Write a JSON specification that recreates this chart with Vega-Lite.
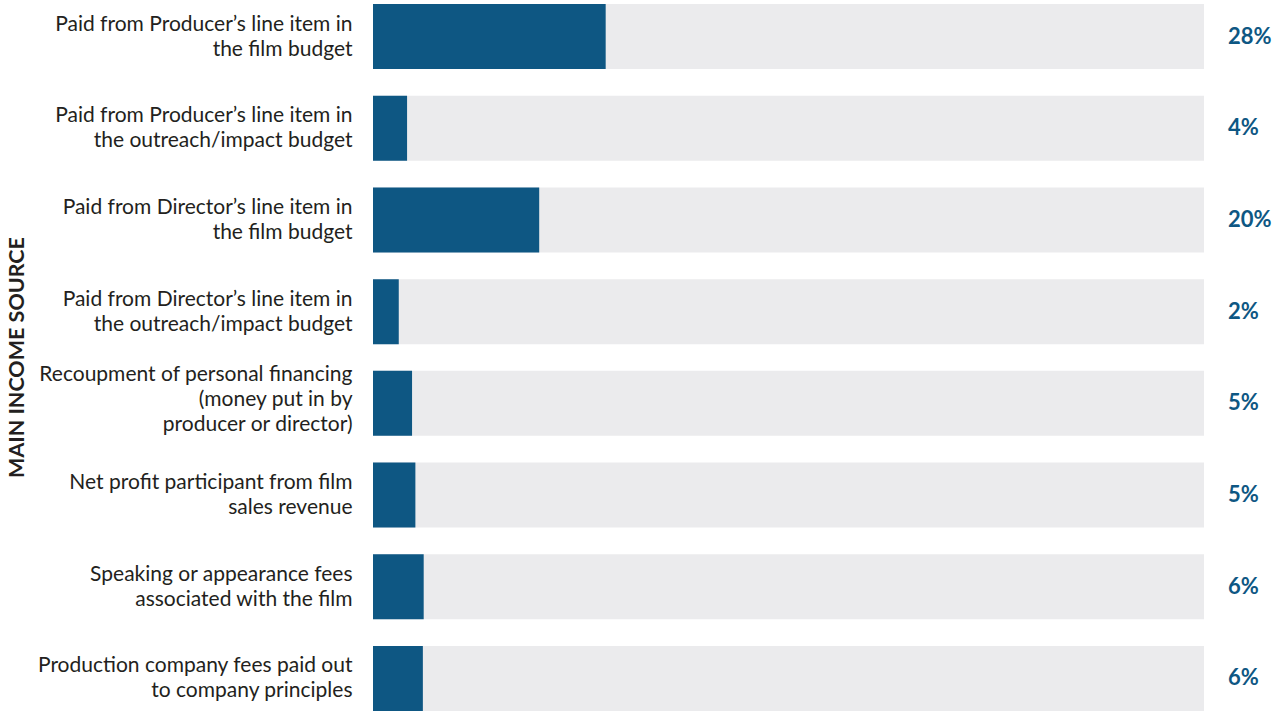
{
  "$schema": "https://vega.github.io/schema/vega-lite/v6.json",
  "width": 831,
  "height": 707,
  "autosize": {"type": "none"},
  "padding": {"left": 373, "top": 4, "right": 76, "bottom": 0},
  "background": "#ffffff",
  "config": {"view": {"stroke": null}, "font": "Lato"},
  "data": {
    "values": [
      {"source": "Paid from Producer’s line item in|the film budget", "pct": 28, "label": "28%"},
      {"source": "Paid from Producer’s line item in|the outreach/impact budget", "pct": 4.1, "label": "4%"},
      {"source": "Paid from Director’s line item in|the film budget", "pct": 20, "label": "20%"},
      {"source": "Paid from Director’s line item in|the outreach/impact budget", "pct": 3.1, "label": "2%"},
      {"source": "Recoupment of personal financing|(money put in by|producer or director)", "pct": 4.7, "label": "5%"},
      {"source": "Net profit participant from film|sales revenue", "pct": 5.1, "label": "5%"},
      {"source": "Speaking or appearance fees|associated with the film", "pct": 6.1, "label": "6%"},
      {"source": "Production company fees paid out|to company principles", "pct": 6.0, "label": "6%"}
    ]
  },
  "encoding": {
    "y": {
      "field": "source",
      "type": "nominal",
      "sort": null,
      "scale": {"paddingInner": 0.291, "paddingOuter": 0},
      "axis": {
        "title": "MAIN INCOME SOURCE",
        "titleFont": "Lato",
        "titleFontWeight": "bold",
        "titleFontSize": 21.5,
        "titleColor": "#231f20",
        "titleAngle": -90,
        "titleAlign": "center",
        "titleBaseline": "middle",
        "titleX": -356,
        "titleY": 353,
        "labelExpr": "split(datum.value, '|')",
        "labelFont": "Lato",
        "labelFontSize": 21,
        "labelColor": "#231f20",
        "labelLineHeight": 25,
        "labelPadding": 21,
        "labelLimit": 400,
        "labelOffset": {"condition": {"test": "indexof(datum.value, 'Recoupment') == 0", "value": -28}, "value": -12},
        "ticks": false,
        "domain": false,
        "grid": false
      }
    }
  },
  "layer": [
    {
      "mark": {"type": "bar", "color": "#ebebed"},
      "encoding": {
        "x": {"datum": 100, "type": "quantitative", "scale": {"domain": [0, 100]}, "axis": null}
      }
    },
    {
      "mark": {"type": "bar", "color": "#0e5783"},
      "encoding": {
        "x": {"field": "pct", "type": "quantitative", "scale": {"domain": [0, 100]}, "axis": null}
      }
    },
    {
      "mark": {"type": "text", "align": "left", "baseline": "middle", "dx": 24, "font": "Lato", "fontWeight": "bold", "fontSize": 22, "color": "#0e5783"},
      "encoding": {
        "x": {"datum": 100, "type": "quantitative"},
        "text": {"field": "label"}
      }
    }
  ]
}
